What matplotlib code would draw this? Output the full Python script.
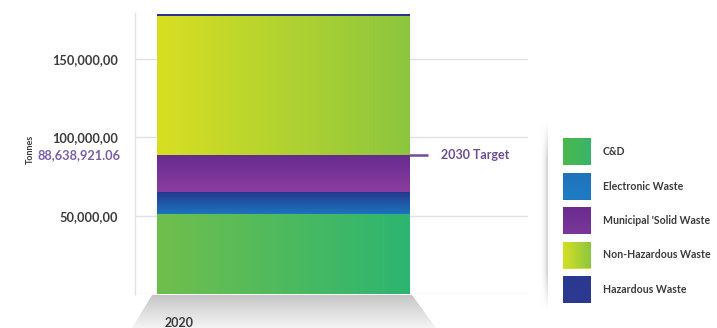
import numpy as np
import matplotlib
matplotlib.use("Agg")
import matplotlib.pyplot as plt
from matplotlib.colors import LinearSegmentedColormap
from matplotlib.patches import Polygon, Rectangle

# ---- data -------------------------------------------------------------
years = ["2020"]
categories = ["C&D", "Electronic Waste", "Municipal 'Solid Waste",
              "Non-Hazardous Waste", "Hazardous Waste"]
tonnes_2020 = [51.0e6, 14.0e6, 23.6e6, 88.5e6, 1.2e6]
target_2030 = 88638921.06
target_label = "88,638,921.06"
yticks = [50e6, 100e6, 150e6]
ytick_labels = ["50,000,00", "100,000,00", "150,000,00"]

# gradient per category: (direction, start colour, end colour)
#   'h' runs left -> right, 'v' runs top -> bottom
fills = {
    "C&D": ("h", "#70bf4c", "#2cb571"),
    "Electronic Waste": ("v", "#243a8e", "#1c74bd"),
    "Municipal 'Solid Waste": ("v", "#652b8e", "#8b3d9f"),
    "Non-Hazardous Waste": ("h", "#d8df22", "#8cc63f"),
    "Hazardous Waste": ("v", "#2e3192", "#2e3192"),
}
# legend swatches use a flatter version of each fill
swatches = {
    "C&D": ("h", "#4cb84c", "#38b46a"),
    "Electronic Waste": ("v", "#1f73ba", "#1f7cc6"),
    "Municipal 'Solid Waste": ("v", "#6a2b8f", "#7a3799"),
    "Non-Hazardous Waste": ("h", "#d6df23", "#8dc63f"),
    "Hazardous Waste": ("v", "#2b3990", "#2b3990"),
}

TEXT = "#3c3b3d"
PURPLE = "#6f4c9b"
FONT = "Lato"

W, H = 717, 328
fig = plt.figure(figsize=(W / 100, H / 100), dpi=100)
fig.patch.set_facecolor("white")

# main axes placed in pixel terms
ax_l, ax_r, ax_b, ax_t = 135, 528, 294.3, 13.3
ax = fig.add_axes([ax_l / W, 1 - ax_b / H, (ax_r - ax_l) / W, (ax_b - ax_t) / H])
ax.set_facecolor("none")


def gradient_image(direction, c0, c1, n=256):
    cmap = LinearSegmentedColormap.from_list("g", [c0, c1])
    g = np.linspace(0, 1, n)
    arr = g[None, :] if direction == "h" else g[:, None]
    return arr, cmap


def paint(axis, patch, spec, zorder, y_down=False):
    """Fill a rectangle patch with a gradient image clipped to it."""
    direction, c0, c1 = spec
    arr, cmap = gradient_image(direction, c0, c1)
    x, y = patch.get_x(), patch.get_y()
    w, h = patch.get_width(), patch.get_height()
    top, bot = (y, y + h) if y_down else (y + h, y)
    im = axis.imshow(arr, cmap=cmap, aspect="auto", origin="upper",
                     extent=[x, x + w, bot, top], zorder=zorder,
                     interpolation="bicubic")
    im.set_clip_path(patch)


x_pos = np.arange(len(years))
bottom = np.zeros(len(years))
values = np.array(tonnes_2020)
for i, cat in enumerate(categories):
    bars = ax.bar(x_pos, [values[i]], bottom=bottom, width=1.0,
                  color=fills[cat][1], linewidth=0, zorder=2)
    for p in bars.patches:
        paint(ax, p, fills[cat], zorder=2.5)
    bottom = bottom + values[i]

ax.set_xlim(-0.587, 0.972)
ax.set_ylim(0, 179e6)

# grid and axis styling
for yv in [0] + yticks:
    ax.axhline(yv, color="#e1e1e1", lw=1.0, zorder=1)
for s in ["top", "right", "bottom"]:
    ax.spines[s].set_visible(False)
ax.spines["left"].set_color("#e1e1e1")
ax.spines["left"].set_linewidth(1.0)
ax.set_xticks([])
ax.set_yticks(yticks)
ax.set_yticklabels(ytick_labels, fontfamily=FONT, fontweight="bold",
                   fontsize=9.2, color=TEXT)
ax.tick_params(axis="y", length=0, pad=12)

# 2030 target marker
ax.text(-0.587 - 0.057, target_2030, target_label, ha="right", va="center",
        fontfamily=FONT, fontweight="bold", fontsize=9.2, color="#7b5ea8",
        transform=ax.transData, clip_on=False)
ax.plot([0.5, 0.575], [target_2030, target_2030], color=PURPLE, lw=1.8,
        solid_capstyle="butt", zorder=3, clip_on=False)
ax.text(0.627, target_2030, "2030 Target", ha="left", va="center",
        fontfamily=FONT, fontweight="bold", fontsize=9, color=PURPLE)

# overlay in pixel coordinates for decorations outside the plot area
ov = fig.add_axes([0, 0, 1, 1], zorder=-1)
ov.set_xlim(0, W)
ov.set_ylim(H, 0)
ov.axis("off")
ov.set_facecolor("none")

ov.text(30, 149, "Tonnes", rotation=90, ha="center", va="center",
        fontfamily=FONT, fontweight="bold", fontsize=6.5, color=TEXT)
ov.text(165, 323, years[0], ha="left", va="center", fontfamily=FONT,
        fontweight="bold", fontsize=9, color=TEXT)

# soft floor under the column
floor = Polygon([[152, 295], [412, 295], [436, 328], [132, 328]],
                closed=True, facecolor="none", edgecolor="none")
ov.add_patch(floor)
fade = np.linspace(0, 1, 64)[:, None]
floor_cmap = LinearSegmentedColormap.from_list(
    "f", ["#c6c6c6", "#dedede", "#f4f4f4"])
im = ov.imshow(fade, cmap=floor_cmap, extent=[130, 440, 328, 295],
               aspect="auto", origin="upper", interpolation="bicubic")
im.set_clip_path(floor)

# legend panel edge: a thin grey rule with a soft shadow to its left
xs = np.linspace(0, 1, 40)
ys = np.linspace(0, 1, 160)
profile = np.where(xs < 0.8, (xs / 0.8) ** 3 * 0.55, np.where(xs < 0.9, 1.0, 0.0))
vert = np.clip(np.sin(np.pi * ys) * 1.6, 0, 1)
shade = profile[None, :] * vert[:, None]
shadow_cmap = LinearSegmentedColormap.from_list("s", ["#ffffff", "#c8c8c8"])
ov.imshow(shade, cmap=shadow_cmap, extent=[537, 549, 310, 122],
          aspect="auto", origin="upper", interpolation="bilinear",
          vmin=0, vmax=1)

# legend entries
sw_x, sw_w, sw_h = 563, 28, 27
row_y = [138, 172.5, 207, 241.5, 276]
for cat, yy in zip(categories, row_y):
    sw = Rectangle((sw_x, yy), sw_w, sw_h, facecolor=swatches[cat][1],
                   edgecolor="none")
    ov.add_patch(sw)
    paint(ov, sw, swatches[cat], zorder=2, y_down=True)
    ov.text(603, yy + sw_h / 2, cat, ha="left", va="center", fontfamily=FONT,
            fontweight="bold", fontsize=7.6, color=TEXT)

fig.savefig("out.png", dpi=100, facecolor="white")
